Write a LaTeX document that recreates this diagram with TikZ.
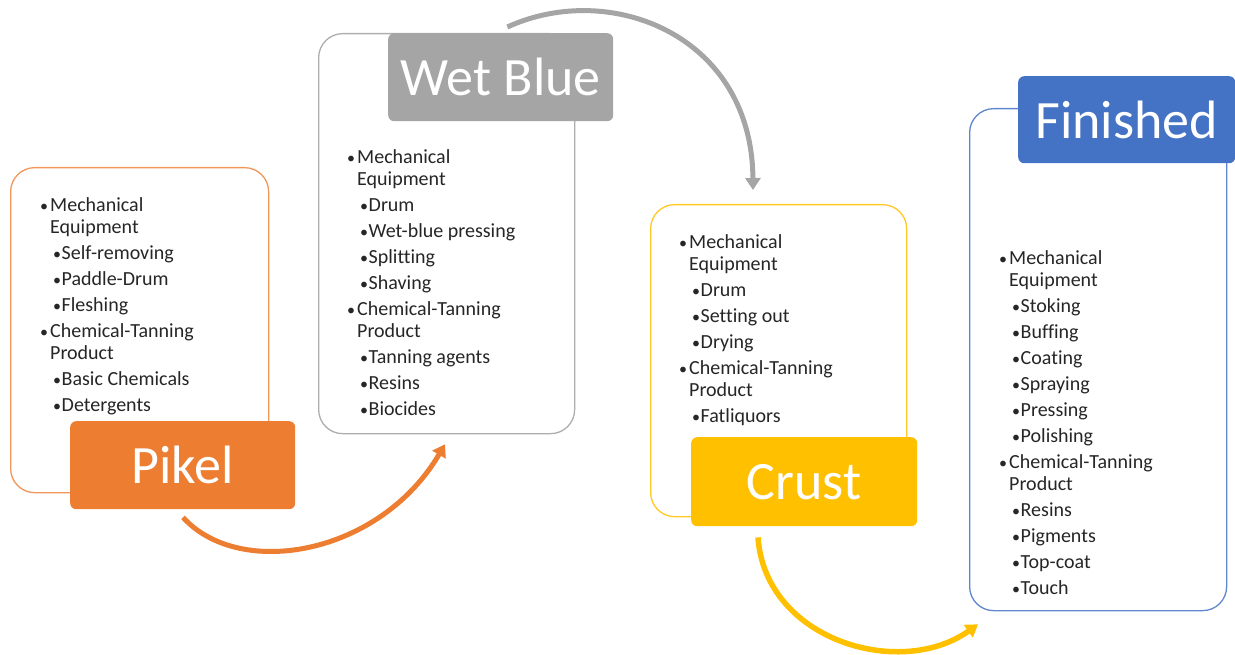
\documentclass[tikz,border=0pt]{standalone}
\usepackage{fontspec}
\setmainfont{Carlito}[Ligatures=NoCommon]
\usetikzlibrary{arrows.meta,calc}
\definecolor{pkorange}{HTML}{ED7D31}
\definecolor{wbgray}{HTML}{A5A5A5}
\definecolor{crgold}{HTML}{FFC000}
\definecolor{fnblue}{HTML}{4472C4}
% list helpers: top-level item, wrapped continuation, sub-item
\newcommand\dotmark{\scalebox{0.8}{•}}
\newcommand\lvA[1]{\makebox[10pt][l]{\dotmark}#1}
\newcommand\lvW[1]{\hspace*{10pt}#1}
\newcommand\lvB[1]{\hspace*{13pt}\makebox[8.5pt][l]{\dotmark}#1}
\begin{document}
\begin{tikzpicture}[x=1pt,y=-1pt,
  panel/.style={draw, line width=1.3pt, rounded corners=24pt, fill=white,
    inner sep=0pt, anchor=north west},
  tag/.style={rounded corners=6pt, inner sep=0pt, anchor=north west,
    text=white, font=\fontsize{54}{60}\selectfont},
  items/.style={anchor=north west, align=left, inner sep=0pt,
    font=\fontsize{20}{22}\selectfont, text=black!85},
  flow/.style={line width=5pt, -{Triangle[width=15pt,length=12pt]}}
]
\useasboundingbox (0,0) rectangle (1235,655);

% stage panels
\node[panel, draw=pkorange!80, minimum width=258pt, minimum height=325pt] (pkbox) at (10,167) {};
\node[panel, draw=wbgray!90, minimum width=256pt, minimum height=400pt] (wbbox) at (318,33) {};
\node[panel, draw=crgold!85, minimum width=256pt, minimum height=312pt] (crbox) at (650,204) {};
\node[panel, draw=fnblue!85, minimum width=257pt, minimum height=502pt] (fnbox) at (969,108) {};

% panel contents
\node[items] (pktext) at (40,197) {%
\lvA{Mechanical}\\
\lvW{Equipment}\\[4pt]
\lvB{Self-removing}\\[4pt]
\lvB{Paddle-Drum}\\[4pt]
\lvB{Fleshing}\\[4pt]
\lvA{Chemical-Tanning}\\
\lvW{Product}\\[4pt]
\lvB{Basic Chemicals}\\[4pt]
\lvB{Detergents}};

\node[items] (wbtext) at (347,149) {%
\lvA{Mechanical}\\
\lvW{Equipment}\\[4pt]
\lvB{Drum}\\[4pt]
\lvB{Wet-blue pressing}\\[4pt]
\lvB{Splitting}\\[4pt]
\lvB{Shaving}\\[4pt]
\lvA{Chemical-Tanning}\\
\lvW{Product}\\[4pt]
\lvB{Tanning agents}\\[4pt]
\lvB{Resins}\\[4pt]
\lvB{Biocides}};

\node[items] (crtext) at (679,234) {%
\lvA{Mechanical}\\
\lvW{Equipment}\\[4pt]
\lvB{Drum}\\[4pt]
\lvB{Setting out}\\[4pt]
\lvB{Drying}\\[4pt]
\lvA{Chemical-Tanning}\\
\lvW{Product}\\[4pt]
\lvB{Fatliquors}};

\node[items] (fntext) at (999,250) {%
\lvA{Mechanical}\\
\lvW{Equipment}\\[4pt]
\lvB{Stoking}\\[4pt]
\lvB{Buffing}\\[4pt]
\lvB{Coating}\\[4pt]
\lvB{Spraying}\\[4pt]
\lvB{Pressing}\\[4pt]
\lvB{Polishing}\\[4pt]
\lvA{Chemical-Tanning}\\
\lvW{Product}\\[4pt]
\lvB{Resins}\\[4pt]
\lvB{Pigments}\\[4pt]
\lvB{Top-coat}\\[4pt]
\lvB{Touch}};

% stage titles
\node[tag, fill=pkorange, minimum width=225pt, minimum height=88pt] (pikel) at (70,421) {Pikel};
\node[tag, fill=wbgray, minimum width=225pt, minimum height=88pt] (wetblue) at (388,33) {Wet Blue};
\node[tag, fill=crgold, minimum width=226pt, minimum height=89pt] (crust) at (691,437) {Crust};
\node[tag, fill=fnblue, minimum width=217pt, minimum height=87pt] (finished) at (1018,76) {Finished};

% flow arrows between stages
\coordinate (f1s) at ($(pikel.south west)+(113,8)$);
\coordinate (f1e) at ($(wbbox.south west)+(127,10)$);
\coordinate (f2s) at ($(wetblue.north east)+(-106,-6)$);
\coordinate (f2e) at ($(crbox.north west)+(103,-14)$);
\coordinate (f3s) at ($(crust.south west)+(67,11)$);
\coordinate (f3e) at ($(fnbox.south west)+(9,13)$);

\draw[flow, pkorange] (f1s) .. controls (240,580) and (380,555) .. (f1e);
\draw[flow, wbgray] (f2s) .. controls (610,-20) and (752,35) .. (f2e);
\draw[flow, crgold, line width=5.5pt] (f3s) .. controls (765,640) and (900,680) .. (f3e);
\end{tikzpicture}
\end{document}
